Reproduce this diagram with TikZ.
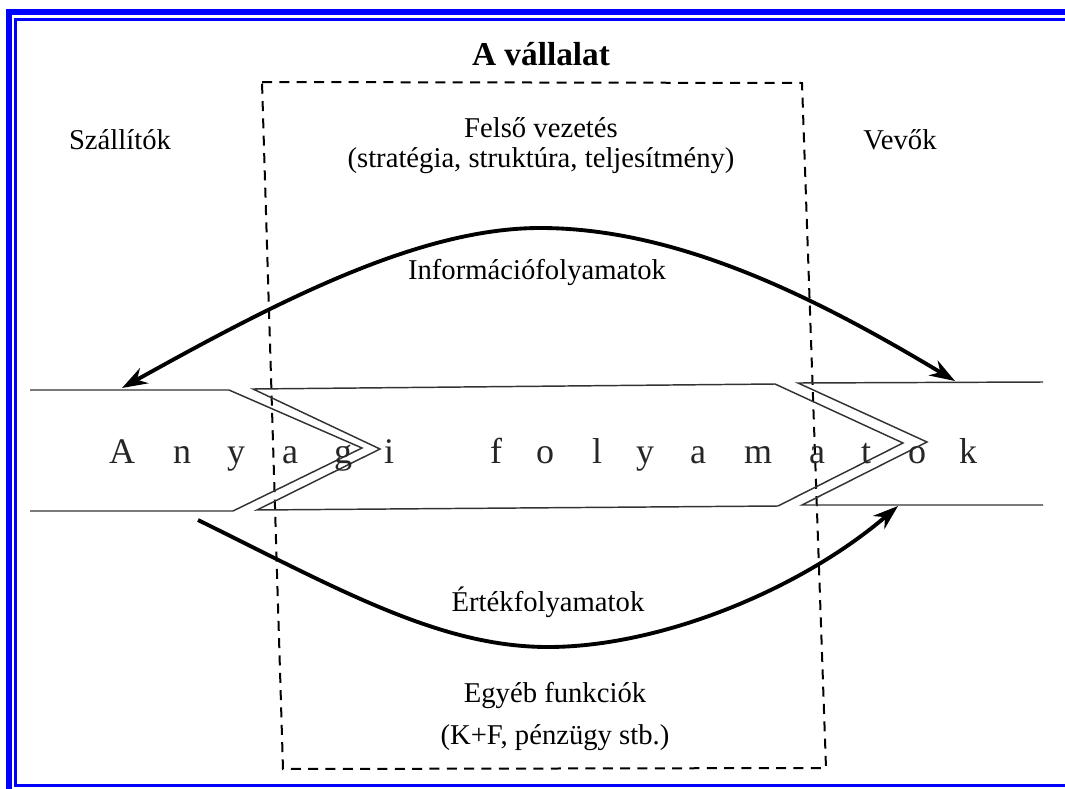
\documentclass[tikz,border=0pt]{standalone}
\usepackage{fontspec}
\setmainfont{Liberation Serif}
\usetikzlibrary{arrows.meta}
\definecolor{frameblue}{RGB}{0,0,255}
\begin{document}
\begin{tikzpicture}[x=0.75pt,y=-0.75pt,
  lbl/.style={font=\fontsize{21.5}{26}\selectfont, inner sep=0pt, anchor=base},
  ttl/.style={font=\bfseries\fontsize{25}{30}\selectfont, inner sep=0pt, anchor=base},
  letter/.style={font=\fontsize{27}{30}\selectfont, inner sep=0pt, anchor=base, text=black!85},
  band/.style={line width=1.1pt, draw=black!80, line join=miter},
  boxline/.style={line width=1.5pt, dash pattern=on 7.5pt off 5.5pt},
  flowhead/.style={line width=2.9pt},
]
\useasboundingbox (0,0) rectangle (1065,789);
% frame
\draw[frameblue, line width=4.5pt] (9,789) -- (9,12) -- (1065,12);
\draw[frameblue, line width=2.25pt] (1065,785.5) -- (15.5,785.5) -- (15.5,19.5) -- (1065,19.5);
% company box
\draw[boxline] (262,82) -- (802,83) -- (826,768) -- (283,769) -- cycle;
% texts
\node[ttl] (title) at (541,65) {A vállalat};
\node[lbl] (szall) at (120,149) {Szállítók};
\node[lbl] (vevok) at (900,149) {Vevők};
\node[lbl] (felso1) at (541,137) {Felső vezetés};
\node[lbl] (felso2) at (541,167) {(stratégia, struktúra, teljesítmény)};
\node[lbl] (info) at (537,279) {Információfolyamatok};
\node[lbl] (ertek) at (548,611) {Értékfolyamatok};
\node[lbl] (egyeb1) at (555,702) {Egyéb funkciók};
\node[lbl] (egyeb2) at (555,744) {(K+F, pénzügy stb.)};
% material flow bands
\draw[band] (30,390) -- (229,390) -- (362,448) -- (233,511) -- (30,511);
\draw[band] (253,389) -- (775,384) -- (903,443) -- (778,506) -- (257,510) -- (380,449) -- cycle;
\draw[band] (1043,382) -- (798,383) -- (927,442) -- (802,505) -- (1043,505);
% letters
\node[letter] (l1) at (122,463) {A};
\node[letter] (l2) at (182,463) {n};
\node[letter] (l3) at (236,463) {y};
\node[letter] (l4) at (290,463) {a};
\node[letter] (l5) at (343,463) {g};
\node[letter] (l6) at (389,463) {i};
\node[letter] (l7) at (496,463) {f};
\node[letter] (l8) at (545,463) {o};
\node[letter] (l9) at (597,463) {l};
\node[letter] (l10) at (645,463) {y};
\node[letter] (l11) at (698,463) {a};
\node[letter] (l12) at (758,463) {m};
\node[letter] (l13) at (817,463) {a};
\node[letter] (l14) at (866,463) {t};
\node[letter] (l15) at (917,463) {o};
\node[letter] (l16) at (968,463) {k};
% flows
\coordinate (iL) at (122,388);
\coordinate (iTop) at (540,228);
\coordinate (iR) at (955,381);
\coordinate (vL) at (198,520);
\coordinate (vBot) at (548,647);
\coordinate (vR) at (898,506);
\draw[flowhead, {Stealth[length=19pt,width=13pt]}-{Stealth[length=19pt,width=13pt]}]
  (iL) .. controls (280,300) and (420,228) .. (iTop) .. controls (680,228) and (820,300) .. (iR);
\draw[flowhead, -{Stealth[length=19pt,width=13pt]}]
  (vL) .. controls (340,590) and (440,647) .. (vBot) .. controls (660,647) and (800,590) .. (vR);
\end{tikzpicture}
\end{document}
